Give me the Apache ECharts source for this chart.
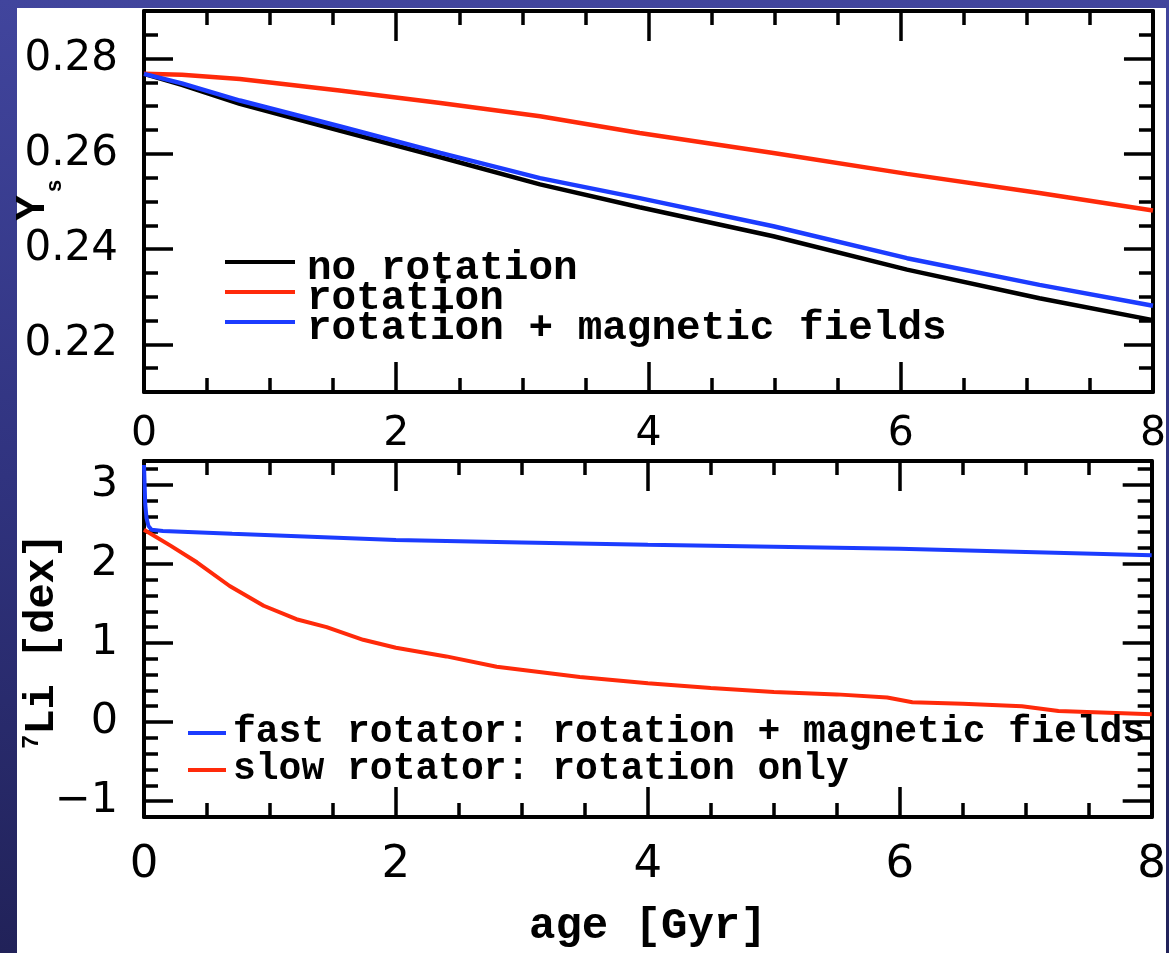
<!DOCTYPE html>
<html><head><meta charset="utf-8">
<script src="https://cdn.jsdelivr.net/npm/echarts@6/dist/echarts.min.js"></script>
<style>
html,body{margin:0;padding:0;}
body{width:1169px;height:953px;background:linear-gradient(to bottom,#41459d 0%,#30337f 50%,#212259 100%);position:relative;overflow:hidden;}
#paper{position:absolute;left:17px;top:8px;width:1149px;height:945px;background:#fff;}
#main{position:absolute;left:0;top:0;width:1169px;height:953px;}
</style></head><body><div id="paper"></div><div id="main"></div>
<script>
// ---------- data ----------
// top panel: surface helium Y_s vs age [Gyr]
const ageTop      = [0, 0.3, 0.76, 1.55, 2.35, 3.14, 3.93, 4.99, 6.05, 7.1, 8.0];
const ysNoRot     = [0.2768, 0.2745, 0.2705, 0.2649, 0.2593, 0.2536, 0.2488, 0.2427, 0.2357, 0.2297, 0.2251];
const ysRot       = [0.2768, 0.2766, 0.2757, 0.2733, 0.2707, 0.2679, 0.2644, 0.2602, 0.2558, 0.2518, 0.2481];
const ysRotMag    = [0.2768, 0.2748, 0.2712, 0.2658, 0.2602, 0.2549, 0.2507, 0.2448, 0.2381, 0.2325, 0.2281];
// bottom panel: 7Li [dex] vs age [Gyr]
const ageFast     = [0, 0.01, 0.02, 0.035, 0.06, 0.15, 0.7, 2.0, 3.0, 4.0, 5.0, 6.0, 7.0, 8.0];
const liFast      = [3.25, 2.75, 2.58, 2.48, 2.43, 2.415, 2.38, 2.30, 2.27, 2.24, 2.215, 2.19, 2.15, 2.11];
const ageSlow     = [0, 0.21, 0.42, 0.68, 0.95, 1.21, 1.45, 1.74, 2.0, 2.4, 2.8, 3.46, 4.0, 4.5, 5.0, 5.5, 5.9, 6.1, 6.5, 6.97, 7.26, 8.0];
const liSlow      = [2.43, 2.23, 2.02, 1.72, 1.47, 1.30, 1.20, 1.04, 0.94, 0.83, 0.70, 0.57, 0.49, 0.43, 0.38, 0.35, 0.31, 0.25, 0.23, 0.20, 0.14, 0.10];
// axis ticks
const xTicks      = [0, 2, 4, 6, 8];
const ysTicks     = [0.22, 0.24, 0.26, 0.28];
const liTicks     = [-1, 0, 1, 2, 3];
const topLegend   = ['no rotation', 'rotation', 'rotation + magnetic fields'];
const botLegend   = ['fast rotator: rotation + magnetic fields', 'slow rotator: rotation only'];

const BLACK = '#000000', RED = '#ff2a0a', BLUE = '#1c3cff';
const MONO = '"Liberation Mono", "DejaVu Sans Mono", monospace';
const SANS = '"DejaVu Sans", sans-serif';

function zip(a, b) { return a.map((v, i) => [v, b[i]]); }

const AX = { color: '#000', width: 4 };
const TK = { color: '#000', width: 3.5 };

function xAxesFor(g, labelSize, margin, name) {
  const base = {
    type: 'value', gridIndex: g, min: 0, max: 8, interval: 2,
    axisLine: { show: true, onZero: false, lineStyle: AX },
    axisTick: { show: true, inside: true, length: 30, lineStyle: TK },
    minorTick: { show: true, splitNumber: 4, length: 14, lineStyle: TK },
    splitLine: { show: false }, minorSplitLine: { show: false }
  };
  const bottom = Object.assign({}, base, {
    position: 'bottom',
    axisLabel: { show: true, color: '#000', fontSize: labelSize, fontFamily: SANS, margin: margin,
      customValues: xTicks, formatter: v => String(v) }
  });
  if (name) {
    Object.assign(bottom, { name: name, nameLocation: 'middle', nameGap: 88,
      nameTextStyle: { color: '#000', fontSize: 44, fontFamily: MONO, fontWeight: 'bold' } });
  }
  const top = Object.assign({}, base, { position: 'top', axisLabel: { show: false } });
  return [bottom, top];
}

function yAxesFor(g, min, max, minorStep, majors, fmt, labelSize, margin) {
  const major = (pos, lab) => ({
    type: 'value', gridIndex: g, position: pos, min: min, max: max,
    axisLine: { show: true, onZero: false, lineStyle: AX },
    axisTick: { show: true, inside: true, length: 29, lineStyle: TK, customValues: majors },
    axisLabel: lab ? { show: true, color: '#000', fontSize: labelSize, fontFamily: SANS, margin: margin,
      customValues: majors, formatter: fmt } : { show: false },
    splitLine: { show: false }
  });
  const minor = (pos) => ({
    type: 'value', gridIndex: g, position: pos, min: min, max: max, interval: minorStep,
    axisLine: { show: false, onZero: false },
    axisTick: { show: true, inside: true, length: 14, lineStyle: TK },
    axisLabel: { show: false }, splitLine: { show: false }
  });
  return [major('left', true), minor('left'), major('right', false), minor('right')];
}

const xAxis = [].concat(
  xAxesFor(0, 41, 22, null),
  xAxesFor(1, 45, 26, 'age [Gyr]')
);
const yAxis = [].concat(
  yAxesFor(0, 0.21, 0.29, 0.005, ysTicks, v => v.toFixed(2), 42, 26),
  yAxesFor(1, -1.2, 3.3, 0.2, liTicks, v => (v < 0 ? '\u2212' + Math.abs(v) : String(v)), 43, 26)
);

function line(xi, yi, xs, ys, color, w) {
  return { type: 'line', xAxisIndex: xi, yAxisIndex: yi, data: zip(xs, ys),
    symbol: 'none', showSymbol: false, smooth: false, animation: false,
    lineStyle: { color: color, width: w }, z: 3 };
}

const series = [
  line(0, 0, ageTop, ysNoRot, BLACK, 4.5),
  line(0, 0, ageTop, ysRot, RED, 4.5),
  line(0, 0, ageTop, ysRotMag, BLUE, 4.5),
  line(2, 4, ageSlow, liSlow, RED, 4),
  line(2, 4, ageFast, liFast, BLUE, 4)
];

function legLine(x1, x2, y, color) {
  return { type: 'line', shape: { x1: x1, y1: y, x2: x2, y2: y }, style: { stroke: color, lineWidth: 4 }, z: 10 };
}
function legText(x, y, t, size) {
  return { type: 'text', x: x, y: y, z: 10,
    style: { text: t, fill: '#000', font: 'bold ' + size + 'px ' + MONO, align: 'left', verticalAlign: 'middle' } };
}
function rotText(x, y, t, size) {
  return { type: 'text', x: x, y: y, rotation: Math.PI / 2, z: 10,
    style: { text: t, fill: '#000', font: 'bold ' + size + 'px ' + MONO, align: 'center', verticalAlign: 'middle' } };
}

const graphic = [
  legLine(225, 295, 262, BLACK), legText(307, 269, topLegend[0], 41),
  legLine(225, 295, 292, RED),   legText(307, 299, topLegend[1], 41),
  legLine(225, 295, 322, BLUE),  legText(307, 329, topLegend[2], 41),
  legLine(188, 226, 733, BLUE),  legText(233, 732, botLegend[0], 38),
  legLine(188, 226, 770, RED),   legText(233, 769, botLegend[1], 38),
  rotText(33, 208, 'Y', 42),
  rotText(55, 186, 's', 22),
  { type: 'text', x: 42, y: 641, rotation: Math.PI / 2, z: 10,
    style: { text: '{s|7}{n|Li [dex]}', align: 'center', verticalAlign: 'middle',
      rich: { n: { fontSize: 42, fontFamily: MONO, fontWeight: 'bold', fill: '#000', lineHeight: 44 },
              s: { fontSize: 24, fontFamily: MONO, fontWeight: 'bold', fill: '#000', lineHeight: 44, verticalAlign: 'top' } } } }
];

const chart = echarts.init(document.getElementById('main'), null, { renderer: 'canvas' });
chart.setOption({
  backgroundColor: 'transparent',
  animation: false,
  grid: [
    { left: 144, top: 11, width: 1009, height: 381, containLabel: false },
    { left: 144, top: 461, width: 1009, height: 356, containLabel: false }
  ],
  xAxis: xAxis,
  yAxis: yAxis,
  series: series,
  graphic: graphic
});
</script>
</body></html>
